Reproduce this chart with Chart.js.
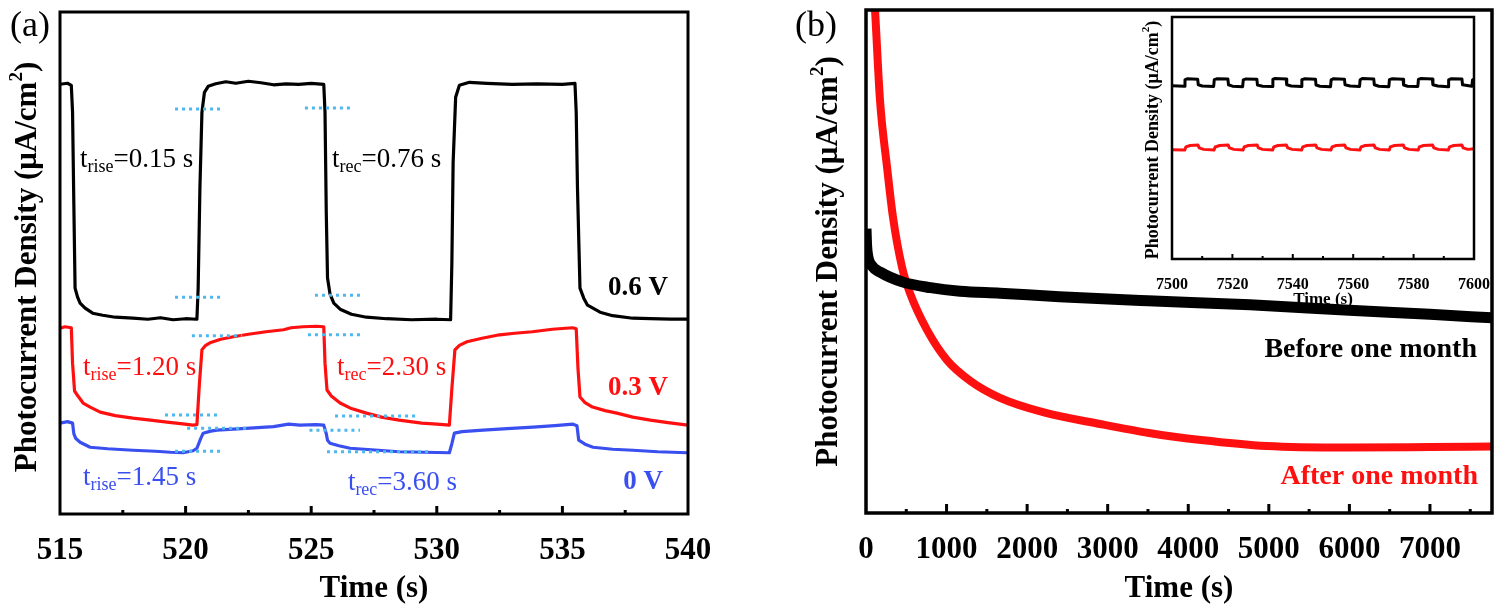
<!DOCTYPE html>
<html>
<head>
<meta charset="utf-8">
<script src="https://cdn.jsdelivr.net/npm/chart.js@4.4.1/dist/chart.umd.min.js"></script>
<style>
  html, body { margin: 0; padding: 0; background: #fff; }
  #wrap { position: relative; width: 1500px; height: 611px; overflow: hidden; }
  canvas { position: absolute; top: 0; }
</style>
</head>
<body>
<div id="wrap">
  <canvas id="chartA" width="740" height="611" style="left:0"></canvas>
  <canvas id="chartB" width="760" height="611" style="left:740px"></canvas>
  <canvas id="chartInset" width="400" height="310" style="left:1100px"></canvas>
</div>
<script>
/* ---------- data: panel (a), on/off photoresponse at three biases ---------- */
const TICKS_A = [515, 520, 525, 530, 535, 540];
const MINOR_A = [517.5, 522.5, 527.5, 532.5, 537.5];

// [time (s), photocurrent (a.u.)]
const CURVE_06V = [
  [515.0, 85.6], [515.3, 85.8], [515.45, 85.4], [515.5, 80], [515.55, 62], [515.6, 45],
  [515.7, 43.2], [515.8, 42.0], [516.0, 41.0], [516.3, 40.0], [516.7, 39.6], [517.2, 39.2],
  [517.9, 39.0], [518.5, 38.8], [519.0, 39.1], [519.5, 38.7], [520.0, 38.9], [520.45, 38.8],
  [520.5, 45], [520.57, 65], [520.65, 80], [520.75, 84], [520.9, 85.2], [521.2, 85.7],
  [521.6, 86.1], [522.0, 85.8], [522.5, 86.2], [523.0, 85.9], [523.5, 85.5], [524.0, 85.7],
  [524.5, 85.6], [525.0, 85.8], [525.5, 85.6], [525.55, 80], [525.6, 60], [525.65, 47],
  [525.75, 43.8], [525.9, 42.0], [526.15, 40.8], [526.6, 39.8], [527.2, 39.2], [528.0, 38.9],
  [529.0, 38.7], [530.0, 38.8], [530.55, 38.7], [530.6, 50], [530.65, 70], [530.75, 83],
  [530.9, 85.4], [531.3, 86.0], [532.0, 85.8], [533.0, 85.6], [534.0, 85.7], [535.0, 85.6],
  [535.5, 85.8], [535.55, 80], [535.6, 65], [535.7, 45], [535.85, 43.0], [536.0, 41.6],
  [536.5, 40.2], [537.0, 39.5], [537.8, 39.0], [538.5, 38.9], [539.3, 38.8], [540.0, 38.8]
];
const CURVE_03V = [
  [515.0, 37.0], [515.2, 37.3], [515.45, 37.1], [515.5, 30], [515.58, 24.5], [515.7, 23.6],
  [515.92, 22.1], [516.2, 21.3], [516.6, 20.3], [517.2, 19.6], [517.9, 19.1], [518.6, 18.7],
  [519.26, 18.3], [519.8, 18.0], [520.3, 17.7], [520.45, 17.8], [520.55, 26], [520.65, 32.7],
  [520.8, 33.6], [520.97, 34.1], [521.4, 34.8], [521.9, 35.3], [522.5, 35.8], [523.2, 36.3],
  [523.9, 36.7], [524.2, 37.1], [524.67, 37.3], [525.2, 37.4], [525.5, 37.3], [525.55, 30],
  [525.63, 24.7], [525.8, 23.5], [526.15, 22.1], [526.6, 21.0], [527.2, 20.1], [527.8, 19.3],
  [528.5, 18.7], [529.4, 18.1], [530.0, 17.9], [530.5, 17.7], [530.6, 25], [530.72, 32.7],
  [530.9, 33.6], [531.2, 34.3], [531.8, 35.0], [532.5, 35.7], [533.1, 36.0], [533.8, 36.3],
  [534.6, 36.8], [535.4, 37.1], [535.55, 36.9], [535.62, 29], [535.7, 23.3], [535.9, 22.2],
  [536.2, 21.3], [536.7, 20.6], [537.17, 20.1], [537.8, 19.3], [538.5, 18.7], [539.2, 18.2],
  [540.0, 17.7]
];
const CURVE_0V = [
  [515.0, 18.1], [515.3, 18.4], [515.5, 18.1], [515.55, 16], [515.62, 15.1], [515.8, 14.3],
  [516.2, 13.3], [516.9, 13.0], [517.9, 12.7], [518.8, 12.5], [519.4, 12.3], [519.9, 12.2],
  [520.3, 12.6], [520.45, 13.1], [520.6, 15], [520.7, 16.1], [521.0, 16.5], [521.25, 16.7],
  [521.9, 16.9], [522.56, 17.1], [523.5, 17.4], [524.1, 17.9], [524.55, 17.7], [525.2, 17.8],
  [525.5, 17.7], [525.6, 16], [525.65, 14.7], [525.75, 14.1], [526.1, 13.6], [526.55, 13.1],
  [527.4, 12.8], [528.5, 12.4], [529.5, 12.3], [530.5, 12.2], [530.6, 14], [530.7, 16.1],
  [531.0, 16.4], [531.84, 16.7], [532.8, 17.0], [533.83, 17.3], [534.7, 17.6], [535.42, 17.9],
  [535.58, 17.6], [535.65, 14.7], [535.9, 13.9], [536.22, 13.3], [537.0, 12.9], [537.81, 12.7],
  [538.8, 12.4], [539.96, 12.2]
];
// 10% / 90% guide levels: [start time, end time, level]
const GUIDES = [
  [519.58, 521.37, 80.7], [519.58, 521.45, 43.2], [524.75, 526.62, 80.9], [525.15, 527.02, 43.6],
  [520.25, 522.25, 35.5], [519.18, 521.25, 19.7], [524.87, 526.94, 35.7], [525.95, 529.25, 19.5],
  [520.06, 522.56, 17.1], [519.58, 521.37, 12.5], [524.93, 526.94, 16.7], [525.63, 529.73, 12.4]
];

/* ---------- data: panel (b), long-term stability ---------- */
const TICKS_B = [0, 1000, 2000, 3000, 4000, 5000, 6000, 7000];
const MINOR_B = [500, 1500, 2500, 3500, 4500, 5500, 6500, 7500];
const BEFORE_MONTH = [
  [0, 56.5], [8, 53.0], [25, 50.8], [70, 49.2], [174, 47.9], [459, 45.9], [800, 44.8],
  [1167, 44.1], [1663, 43.7], [2400, 43.0], [3500, 42.2], [4766, 41.4], [6000, 40.3],
  [7000, 39.5], [7770, 38.8]
];
const AFTER_MONTH = [
  [80, 108], [112, 100], [174, 82], [261, 68.8], [335, 58.8], [447, 48.9], [546, 43.7],
  [757, 36.4], [1005, 30.4], [1300, 26.2], [1663, 22.9], [2209, 20.0], [2904, 17.7],
  [3512, 15.9], [4159, 14.5], [4977, 13.3], [6000, 13.0], [7000, 13.1], [7770, 13.2]
];

/* ---------- data: inset, 7500-7600 s ---------- */
const TICKS_IN = [7500, 7520, 7540, 7560, 7580, 7600];
const MINOR_IN = [7510, 7530, 7550, 7570, 7590];
const INSET_BEFORE = [
  [7500, 71.6], [7504.1, 71.4], [7504.3, 74.0], [7505, 74.5], [7508.5, 74.3], [7508.7, 72.0],
  [7510, 71.5], [7513.8, 71.3], [7514.0, 74.1], [7515, 74.5], [7518.5, 74.4], [7518.7, 72.0],
  [7520, 71.4], [7523.4, 71.2], [7523.6, 74.0], [7524.5, 74.4], [7528.1, 74.3], [7528.3, 71.9],
  [7530, 71.4], [7533.2, 71.3], [7533.4, 74.2], [7534, 74.6], [7537.8, 74.4], [7538.0, 72.0],
  [7539.5, 71.5], [7542.8, 71.3], [7543.0, 74.1], [7544, 74.5], [7547.5, 74.3], [7547.7, 71.9],
  [7549, 71.4], [7552.5, 71.2], [7552.7, 74.0], [7553.5, 74.5], [7557.1, 74.3], [7557.3, 72.0],
  [7559, 71.5], [7562.1, 71.3], [7562.3, 74.1], [7563, 74.6], [7566.8, 74.4], [7567.0, 72.0],
  [7568.5, 71.4], [7571.8, 71.2], [7572.0, 74.1], [7573, 74.5], [7576.5, 74.3], [7576.7, 71.9],
  [7578, 71.4], [7581.4, 71.3], [7581.6, 74.2], [7582.5, 74.6], [7586.2, 74.4], [7586.4, 72.0],
  [7588, 71.5], [7591.4, 71.2], [7591.6, 74.0], [7592.5, 74.5], [7596.0, 74.4], [7596.2, 72.0],
  [7599.3, 71.4], [7599.5, 74.0], [7600, 74.4]
];
const INSET_AFTER = [
  [7500, 45.1], [7504.2, 45.0], [7504.6, 46.3], [7506, 46.9], [7508.6, 47.1], [7509.0, 45.9],
  [7510.5, 45.3], [7513.9, 45.0], [7514.3, 46.3], [7515.8, 46.9], [7518.6, 47.1], [7519.0, 45.9],
  [7520.5, 45.3], [7523.5, 45.0], [7523.9, 46.3], [7525.3, 46.9], [7528.2, 47.1], [7528.6, 45.9],
  [7530, 45.3], [7533.3, 45.0], [7533.7, 46.3], [7535.1, 46.9], [7537.9, 47.1], [7538.3, 45.9],
  [7539.8, 45.3], [7542.9, 45.0], [7543.3, 46.3], [7544.7, 46.9], [7547.6, 47.1], [7548.0, 45.9],
  [7549.5, 45.3], [7552.6, 45.0], [7553.0, 46.3], [7554.4, 46.9], [7557.2, 47.1], [7557.6, 45.9],
  [7559.1, 45.3], [7562.2, 45.0], [7562.6, 46.3], [7564, 46.9], [7566.9, 47.1], [7567.3, 45.9],
  [7568.8, 45.3], [7571.9, 45.0], [7572.3, 46.3], [7573.7, 46.9], [7576.6, 47.1], [7577.0, 45.9],
  [7578.5, 45.3], [7581.5, 45.0], [7581.9, 46.3], [7583.3, 46.9], [7586.3, 47.1], [7586.7, 45.9],
  [7588.2, 45.3], [7591.5, 45.0], [7591.9, 46.3], [7593.3, 46.9], [7596, 47.1], [7596.4, 45.9],
  [7598, 45.3], [7600, 45.6]
];

/* ---------- styling helpers ---------- */
const SERIF = "'Liberation Serif', 'Times New Roman', serif";
const BLACK = '#000000';
const RED = '#ff1010';
const BLUE = '#3a4ff0';
const GUIDE_BLUE = '#4db8f0';

const YTITLE = (size) => [
  ['Photocurrent Density (\u03bcA/cm', size, 'bold'],
  ['2', Math.round(size * 0.62), 'bold', -size * 0.36],
  [')', size, 'bold']
];

// draw a run of text pieces: [text, size, weight, dy]
function drawRich(ctx, parts, x, y, align, color) {
  let w = 0;
  parts.forEach(p => {
    ctx.font = `${p[2] || 'normal'} ${p[1]}px ${SERIF}`;
    w += ctx.measureText(p[0]).width;
  });
  let cx = align === 'right' ? x - w : align === 'center' ? x - w / 2 : x;
  ctx.fillStyle = color;
  ctx.textAlign = 'left';
  ctx.textBaseline = 'middle';
  parts.forEach(p => {
    ctx.font = `${p[2] || 'normal'} ${p[1]}px ${SERIF}`;
    ctx.fillText(p[0], cx, y + (p[3] || 0));
    cx += ctx.measureText(p[0]).width;
  });
}

// frame + inward ticks + rotated y title + free labels
function decorPlugin(cfg) {
  return {
    id: 'decor',
    afterDatasetsDraw(chart) {
      const { ctx, chartArea: a, scales } = chart;
      const xs = scales.x;
      ctx.save();
      ctx.strokeStyle = '#000';
      ctx.lineWidth = cfg.frame;
      ctx.strokeRect(a.left, a.top, a.right - a.left, a.bottom - a.top);
      ctx.lineWidth = cfg.tickWidth;
      ctx.beginPath();
      cfg.major.forEach(v => {
        const px = xs.getPixelForValue(v);
        ctx.moveTo(px, a.bottom);
        ctx.lineTo(px, a.bottom - cfg.majorLen);
      });
      cfg.minor.forEach(v => {
        const px = xs.getPixelForValue(v);
        ctx.moveTo(px, a.bottom);
        ctx.lineTo(px, a.bottom - cfg.minorLen);
      });
      ctx.stroke();

      // y title
      ctx.save();
      ctx.translate(a.left - cfg.yTitleGap, (a.top + a.bottom) / 2 + (cfg.yTitleShift || 0));
      ctx.rotate(-Math.PI / 2);
      drawRich(ctx, YTITLE(cfg.yTitleSize), 0, 0, 'center', '#000');
      ctx.restore();

      (cfg.labels || []).forEach(l => {
        const px = l.px !== undefined ? a.left + l.px : xs.getPixelForValue(l.x);
        const py = l.py !== undefined ? a.top + l.py : scales.y.getPixelForValue(l.y);
        drawRich(ctx, l.parts, px, py, l.align || 'left', l.color);
      });
      ctx.restore();
    }
  };
}

function tickFont(size) {
  return { family: SERIF, size: size, weight: 'bold' };
}

function xScale(min, max, ticks, height, fontSize, pad, titleSize, titlePad) {
  return {
    type: 'linear',
    min: min,
    max: max,
    afterBuildTicks: s => { s.ticks = ticks.map(v => ({ value: v })); },
    afterFit: s => { s.height = height; },
    grid: { display: false },
    border: { display: false },
    ticks: {
      autoSkip: false, maxRotation: 0, padding: pad, color: '#000', font: tickFont(fontSize),
      callback: v => String(v)
    },
    title: {
      display: true, text: 'Time (s)', color: '#000',
      font: tickFont(titleSize), padding: { top: 0, bottom: titlePad }
    }
  };
}

function line(data, color, width, extra) {
  return Object.assign({
    data: data,
    borderColor: color,
    borderWidth: width,
    pointRadius: 0,
    tension: 0,
    fill: false,
    clip: 0,
    borderJoinStyle: 'round'
  }, extra || {});
}

const baseOptions = (padding) => ({
  responsive: false,
  animation: false,
  layout: { padding: padding },
  plugins: { legend: { display: false }, tooltip: { enabled: false } }
});

/* ---------- panel (a) ---------- */
const sub = (main, s, rest, size) => [[main, size], [s, Math.round(size * 0.66), 'normal', size * 0.28], [rest, size]];

const guideSets = GUIDES.map(g => line([[g[0], g[2]], [g[1], g[2]]], GUIDE_BLUE, 3, { borderDash: [3, 4], borderCapStyle: 'butt' }));

new Chart(document.getElementById('chartA'), {
  type: 'line',
  data: {
    datasets: guideSets.concat([
      line(CURVE_06V, BLACK, 3.2),
      line(CURVE_03V, RED, 3.2),
      line(CURVE_0V, BLUE, 3.2)
    ])
  },
  options: Object.assign(baseOptions({ left: 60, right: 52, top: 12, bottom: 0 }), {
    scales: {
      x: xScale(515, 540, TICKS_A, 97, 31, 10, 31, 3),
      y: { display: false, min: 0, max: 100 }
    }
  }),
  plugins: [decorPlugin({
    frame: 3, tickWidth: 3, majorLen: 8, minorLen: 4,
    major: [520, 525, 530, 535], minor: MINOR_A,
    yTitleGap: 32, yTitleShift: 4, yTitleSize: 31,
    labels: [
      { px: -30, py: 15, parts: [['(a)', 36]], color: '#000', align: 'center' },
      { x: 515.8, y: 70.5, parts: sub('t', 'rise', '=0.15 s', 27), color: BLACK },
      { x: 525.83, y: 70.5, parts: sub('t', 'rec', '=0.76 s', 27), color: BLACK },
      { x: 515.92, y: 29.1, parts: sub('t', 'rise', '=1.20 s', 27), color: RED },
      { x: 526.03, y: 29.1, parts: sub('t', 'rec', '=2.30 s', 27), color: RED },
      { x: 515.92, y: 7.2, parts: sub('t', 'rise', '=1.45 s', 27), color: BLUE },
      { x: 526.46, y: 6.2, parts: sub('t', 'rec', '=3.60 s', 27), color: BLUE },
      { x: 539.2, y: 45.0, parts: [['0.6 V', 27, 'bold']], color: BLACK, align: 'right' },
      { x: 539.2, y: 25.1, parts: [['0.3 V', 27, 'bold']], color: RED, align: 'right' },
      { x: 539.0, y: 6.4, parts: [['0 V', 27, 'bold']], color: BLUE, align: 'right' }
    ]
  })]
});

/* ---------- panel (b) ---------- */
new Chart(document.getElementById('chartB'), {
  type: 'line',
  data: {
    datasets: [
      line(BEFORE_MONTH, BLACK, 11, { cubicInterpolationMode: 'monotone' }),
      line(AFTER_MONTH, RED, 8, { cubicInterpolationMode: 'monotone' })
    ]
  },
  options: Object.assign(baseOptions({ left: 126, right: 8, top: 10, bottom: 0 }), {
    scales: {
      x: xScale(0, 7770, TICKS_B, 98, 31, 10, 31, 3),
      y: { display: false, min: 0, max: 100 }
    }
  }),
  plugins: [decorPlugin({
    frame: 3.5, tickWidth: 3, majorLen: 9, minorLen: 4,
    major: TICKS_B.slice(1), minor: MINOR_B,
    yTitleGap: 37, yTitleShift: 0, yTitleSize: 31,
    labels: [
      { px: -50, py: 17, parts: [['(b)', 36]], color: '#000', align: 'center' },
      { x: 7584, y: 32.4, parts: [['Before one month', 28, 'bold']], color: BLACK, align: 'right' },
      { x: 7596, y: 7.2, parts: [['After one month', 28, 'bold']], color: RED, align: 'right' }
    ]
  })]
});

/* ---------- inset ---------- */
new Chart(document.getElementById('chartInset'), {
  type: 'line',
  data: {
    datasets: [
      line(INSET_BEFORE, BLACK, 3),
      line(INSET_AFTER, RED, 3)
    ]
  },
  options: Object.assign(baseOptions({ left: 72, right: 26, top: 17, bottom: 0 }), {
    scales: {
      x: xScale(7500, 7600, TICKS_IN, 51, 16, 8, 17, 0),
      y: { display: false, min: 0, max: 100 }
    }
  }),
  plugins: [decorPlugin({
    frame: 2.5, tickWidth: 2, majorLen: 5, minorLen: 3,
    major: [7520, 7540, 7560, 7580], minor: MINOR_IN,
    yTitleGap: 19, yTitleShift: 2, yTitleSize: 18,
    labels: []
  })]
});
</script>
</body>
</html>
